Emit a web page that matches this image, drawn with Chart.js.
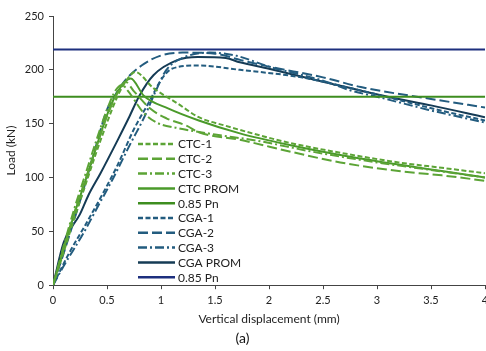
<!DOCTYPE html>
<html>
<head>
<meta charset="utf-8">
<script src="https://cdn.jsdelivr.net/npm/chart.js@4/dist/chart.umd.min.js"></script>
<style>
  html, body { margin: 0; padding: 0; background: #fff; }
  #wrap { width: 486px; height: 351px; position: relative; }
</style>
</head>
<body>
<div id="wrap"><canvas id="chart"></canvas></div>
<script>
// Load vs vertical displacement, CTC and CGA specimens
const xTicks = [0, 0.5, 1, 1.5, 2, 2.5, 3, 3.5, 4];
const yTicks = [0, 50, 100, 150, 200, 250];

const ctc1X = [0, 0.1, 0.2, 0.3, 0.4, 0.5, 0.6, 0.7, 0.76, 0.93, 1.15, 1.35, 1.6, 1.92, 2.2, 2.66, 3.2, 3.6, 4];
const ctc1Y = [0, 31, 63, 93, 123, 151, 176, 193, 198, 183, 169, 156, 148, 139, 132, 123, 114, 109, 104];

const ctc2X = [0, 0.1, 0.2, 0.3, 0.4, 0.5, 0.6, 0.67, 0.75, 0.9, 1.05, 1.24, 1.35, 1.73, 2.2, 2.66, 3.2, 3.6, 4];
const ctc2Y = [0, 35, 68, 98, 128, 157, 179, 189, 180, 164, 155, 148, 142, 135, 124, 114, 106, 102, 97];

const ctc3X = [0, 0.1, 0.2, 0.3, 0.4, 0.5, 0.58, 0.64, 0.69, 0.84, 0.96, 1.15, 1.5, 1.9, 2.4, 3, 3.5, 4];
const ctc3Y = [0, 37, 72, 103, 134, 163, 181, 186, 181, 160, 151, 146, 140, 134, 124, 114, 107, 100];

const ctcPromX = [0, 0.1, 0.2, 0.3, 0.4, 0.5, 0.6, 0.72, 0.84, 1.07, 1.35, 1.73, 2.2, 2.66, 3.2, 3.6, 4];
const ctcPromY = [0, 34, 67, 97, 128, 158, 180, 192, 176, 164, 153, 141, 130, 121, 112, 106, 100];

const cga1X = [0, 0.15, 0.3, 0.45, 0.6, 0.75, 0.9, 0.99, 1.1, 1.35, 1.73, 2.3, 2.8, 3.2, 3.6, 4];
const cga1Y = [0, 30, 56, 83, 112, 145, 172, 189, 201, 204, 200, 193, 182, 172, 162, 153];

const cga2X = [0, 0.1, 0.2, 0.3, 0.4, 0.5, 0.55, 0.65, 0.82, 0.99, 1.2, 1.5, 1.74, 2, 2.5, 2.85, 3.5, 4];
const cga2Y = [0, 30, 62, 95, 130, 163, 172, 188, 204, 213, 216, 215, 209, 203, 193, 184, 173, 165];

const cga3X = [0, 0.1, 0.28, 0.42, 0.55, 0.72, 0.84, 0.95, 1.05, 1.2, 1.45, 1.7, 2, 2.5, 2.75, 3, 3.47, 4];
const cga3Y = [0, 18, 48, 74, 98, 132, 155, 180, 200, 211, 216, 213, 203, 190, 181, 175, 163, 151];

const cgaPromX = [0, 0.1, 0.25, 0.33, 0.44, 0.6, 0.7, 0.8, 0.93, 1.15, 1.34, 1.6, 1.73, 2, 2.5, 3.1, 3.5, 4];
const cgaPromY = [0, 40, 66, 84, 104, 135, 155, 176, 195, 209, 212, 211, 207, 201, 189, 175, 167, 156];

const pnX = [0, 4];
const pnCtcY = [175, 175];
const pnCgaY = [219, 219];

const seriesNames = ['CTC-1', 'CTC-2', 'CTC-3', 'CTC PROM', '0.85 Pn', 'CGA-1', 'CGA-2', 'CGA-3', 'CGA PROM', '0.85 Pn'];

const GREEN_DASH = '#5ca436';
const GREEN_SOLID = '#4a9a2a';
const GREEN_PN = '#3d8d1f';
const BLUE_DASH = '#235c7f';
const BLUE_SOLID = '#153b55';
const BLUE_PN = '#1d2f7e';

const SHORT = [5, 2.5];
const LONG = [10, 4];
const DASHDOT = [9, 3, 2, 3];

function pts(xs, ys) {
    return xs.map((x, i) => ({ x: x, y: ys[i] }));
}

function series(label, xs, ys, color, dash, width) {
    return {
        label: label,
        data: pts(xs, ys),
        borderColor: color,
        backgroundColor: color,
        borderDash: dash,
        borderWidth: width || 2,
        pointRadius: 0,
        fill: false,
        cubicInterpolationMode: 'monotone'
    };
}

const datasets = [
    series(seriesNames[0], ctc1X, ctc1Y, GREEN_DASH, SHORT),
    series(seriesNames[1], ctc2X, ctc2Y, GREEN_DASH, LONG),
    series(seriesNames[2], ctc3X, ctc3Y, GREEN_DASH, DASHDOT),
    series(seriesNames[3], ctcPromX, ctcPromY, GREEN_SOLID, []),
    series(seriesNames[4], pnX, pnCtcY, GREEN_PN, []),
    series(seriesNames[5], cga1X, cga1Y, BLUE_DASH, SHORT),
    series(seriesNames[6], cga2X, cga2Y, BLUE_DASH, LONG),
    series(seriesNames[7], cga3X, cga3Y, BLUE_DASH, DASHDOT),
    series(seriesNames[8], cgaPromX, cgaPromY, BLUE_SOLID, []),
    series(seriesNames[9], pnX, pnCgaY, BLUE_PN, [])
];

// legend drawn inside the plot, lower left
const insideLegend = {
    id: 'insideLegend',
    afterDatasetsDraw(chart) {
        const ctx = chart.ctx;
        const x0 = 138, x1 = 175, top = 144, step = 14.8;
        ctx.save();
        ctx.font = '12px Lato';
        ctx.textBaseline = 'middle';
        ctx.fillStyle = '#222';
        chart.data.datasets.forEach((ds, i) => {
            const y = top + i * step;
            ctx.beginPath();
            ctx.setLineDash(ds.borderDash || []);
            ctx.strokeStyle = ds.borderColor;
            ctx.lineWidth = 2.5;
            ctx.moveTo(x0, y);
            ctx.lineTo(x1, y);
            ctx.stroke();
            ctx.setLineDash([]);
            ctx.fillText(ds.label, x1 + 3, y + 0.5);
        });
        ctx.restore();
    }
};

new Chart(document.getElementById('chart'), {
    type: 'line',
    data: { datasets: datasets },
    options: {
        responsive: true,
        maintainAspectRatio: false,
        animation: false,
        layout: { padding: { top: 16, right: 1, left: 0, bottom: 0 } },
        plugins: {
            legend: { display: false },
            tooltip: { enabled: false },
            title: {
                display: true,
                position: 'bottom',
                text: '(a)',
                color: '#111',
                font: { family: 'Lato', size: 14, weight: 'normal' },
                padding: { top: 0, bottom: 4 }
            }
        },
        scales: {
            x: {
                type: 'linear',
                min: 0,
                max: 4,
                afterBuildTicks: (s) => { s.ticks = xTicks.map(v => ({ value: v })); },
                afterFit: (s) => { s.height = 45; s.paddingLeft = 0; s.paddingRight = 0; },
                grid: { drawOnChartArea: false, drawTicks: true, tickLength: 4, color: '#444' },
                border: { display: true, color: '#444', width: 1 },
                ticks: {
                    color: '#222',
                    font: { family: 'Lato', size: 11 },
                    padding: 5,
                    maxRotation: 0,
                    callback: (v) => String(v)
                },
                title: {
                    display: true,
                    text: 'Vertical displacement (mm)',
                    color: '#222',
                    font: { family: 'Lato', size: 12 },
                    padding: { top: 4, bottom: 4 }
                }
            },
            y: {
                min: 0,
                max: 250,
                afterBuildTicks: (s) => { s.ticks = yTicks.map(v => ({ value: v })); },
                afterFit: (s) => { s.width = 53; },
                grid: { drawOnChartArea: false, drawTicks: true, tickLength: 4, color: '#444' },
                border: { display: true, color: '#444', width: 1 },
                ticks: {
                    color: '#222',
                    font: { family: 'Lato', size: 11 },
                    padding: 5,
                    callback: (v) => String(v)
                },
                title: {
                    display: true,
                    text: 'Load (kN)',
                    color: '#222',
                    font: { family: 'Lato', size: 12 },
                    padding: { top: 4, bottom: 4 }
                }
            }
        }
    },
    plugins: [insideLegend]
});
</script>
</body>
</html>
